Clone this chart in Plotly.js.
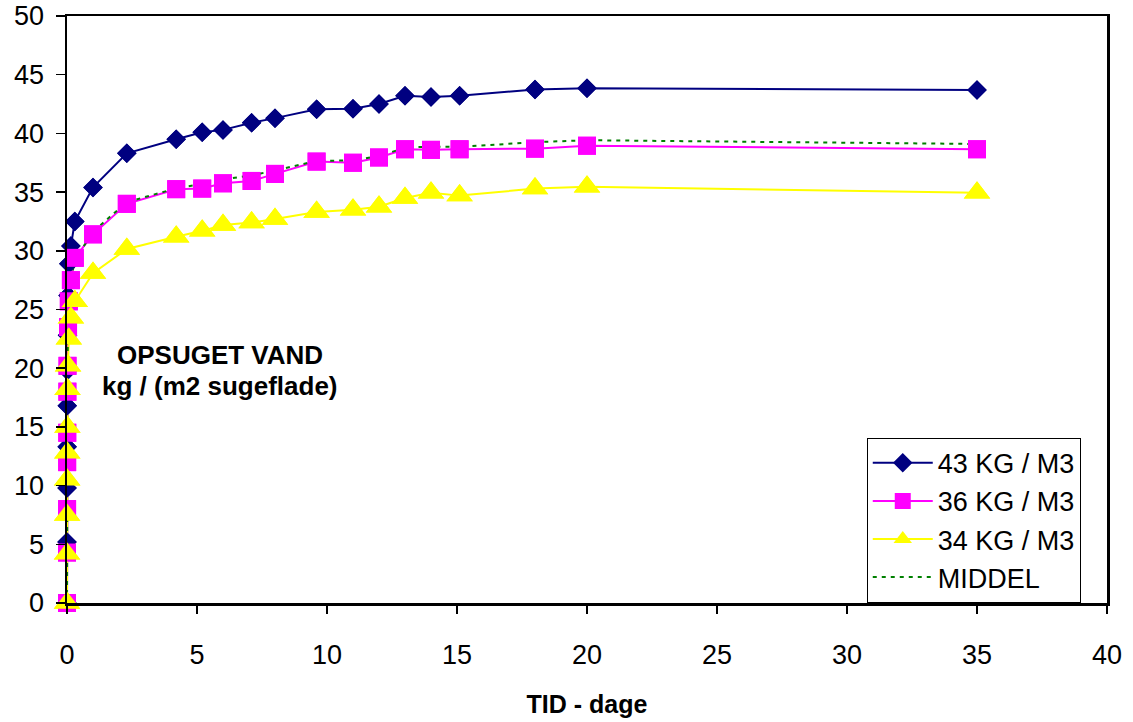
<!DOCTYPE html>
<html>
<head>
<meta charset="utf-8">
<script src="https://cdn.plot.ly/plotly-3.0.1.min.js"></script>
<style>html,body{margin:0;padding:0;background:#fff;}#chart{width:1133px;height:722px;}</style>
</head>
<body>
<div id="chart"></div>
<script>
// Time in days
var tid = [0, 0.001, 0.003, 0.006, 0.01, 0.015, 0.02, 0.04, 0.07, 0.15, 0.3, 1, 2.3, 4.2, 5.2, 6, 7.1, 8, 9.6, 11, 12, 13, 14, 15.1, 18, 20, 35];
var kg43 = [0, 5.2, 9.8, 13.3, 16.8, 19.8, 22.8, 26.2, 28.9, 30.4, 32.5, 35.4, 38.3, 39.5, 40.1, 40.3, 40.9, 41.3, 42.05, 42.1, 42.5, 43.2, 43.1, 43.2, 43.75, 43.85, 43.7];
var kg36 = [0, 4.3, 8.0, 12.0, 14.5, 18.0, 20.2, 23.5, 25.7, 27.5, 29.4, 31.4, 34.0, 35.25, 35.3, 35.75, 35.95, 36.55, 37.6, 37.5, 37.95, 38.65, 38.6, 38.65, 38.7, 38.95, 38.65];
var kg34 = [0, 4.2, 7.5, 10.5, 12.8, 15.0, 18.2, 20.2, 22.5, 24.3, 25.7, 28.1, 30.15, 31.2, 31.7, 32.2, 32.4, 32.7, 33.3, 33.5, 33.75, 34.5, 34.95, 34.7, 35.3, 35.45, 34.95];
var middel = [0, 4.57, 8.43, 11.93, 14.7, 17.6, 20.4, 23.3, 25.7, 27.4, 29.2, 31.63, 34.15, 35.32, 35.7, 36.08, 36.42, 36.85, 37.65, 37.7, 38.07, 38.78, 38.88, 38.85, 39.25, 39.42, 39.1];
var seriesNames = ["43 KG / M3", "36 KG / M3", "34 KG / M3", "MIDDEL"];
var xTitle = "TID - dage";
var noteLines = ["OPSUGET VAND", "kg / (m2 sugeflade)"];

var FONT = "Liberation Sans, Arial, sans-serif";
var styles = [
  {color: "#000080", symbol: "diamond", size: 15},
  {color: "#FF00FF", symbol: "square", size: 18},
  {color: "#FFFF00", symbol: "triangle-up", size: 23}
];
var ys = [kg43, kg36, kg34];
var traces = [];
ys.forEach(function (y, i) {
  traces.push({
    x: tid, y: y, name: seriesNames[i], type: "scatter", mode: "lines+markers",
    line: {color: styles[i].color, width: 2},
    marker: {color: styles[i].color, symbol: styles[i].symbol, size: styles[i].size},
    cliponaxis: false
  });
});
traces.push({
  x: tid, y: middel, name: seriesNames[3], type: "scatter", mode: "lines",
  line: {color: "#008000", width: 2, dash: "4px,5px"},
  cliponaxis: false
});
ys.forEach(function (y, i) {
  traces.push({
    x: tid, y: y, name: seriesNames[i], type: "scatter", mode: "markers", showlegend: false,
    marker: {color: styles[i].color, symbol: styles[i].symbol, size: styles[i].size},
    cliponaxis: false, hoverinfo: "skip"
  });
});

var layout = {
  width: 1133, height: 722,
  margin: {l: 67, r: 26, t: 16, b: 119},
  paper_bgcolor: "#fff", plot_bgcolor: "#fff",
  font: {family: FONT, size: 27, color: "#000"},
  showlegend: true,
  xaxis: {
    range: [0, 40], dtick: 5, tick0: 0, showgrid: false, zeroline: false,
    showline: true, linecolor: "#000", linewidth: 2.5, mirror: true,
    ticks: "outside", ticklen: 8, tickwidth: 1.5, tickcolor: "#000",
    ticklabelstandoff: 18,
    tickfont: {family: FONT, size: 27, color: "#000"},
    title: {text: "<b>" + xTitle + "</b>", font: {family: FONT, size: 25, color: "#000"}, standoff: 27}
  },
  yaxis: {
    range: [0, 50], dtick: 5, tick0: 0, showgrid: false, zeroline: false,
    showline: true, linecolor: "#000", linewidth: 2.5, mirror: true,
    ticks: "outside", ticklen: 9, tickwidth: 1.5, tickcolor: "#000",
    ticklabelstandoff: 6,
    tickfont: {family: FONT, size: 27, color: "#000"}
  },
  legend: {
    x: 0.769, y: 0.141, xanchor: "left", yanchor: "middle",
    bgcolor: "#fff", bordercolor: "#000", borderwidth: 1,
    font: {family: FONT, size: 27, color: "#000"},
    itemwidth: 60, tracegroupgap: 0
  },
  annotations: [
    {xref: "paper", yref: "paper", x: 0.147, y: 0.4225, text: "<b>" + noteLines[0] + "</b>", showarrow: false,
     font: {family: FONT, size: 26, color: "#000"}, xanchor: "center", yanchor: "middle"},
    {xref: "paper", yref: "paper", x: 0.147, y: 0.3697, text: "<b>" + noteLines[1] + "</b>", showarrow: false,
     font: {family: FONT, size: 26, color: "#000"}, xanchor: "center", yanchor: "middle"}
  ]
};

Plotly.newPlot("chart", traces, layout, {displayModeBar: false, staticPlot: true});
</script>
</body>
</html>
